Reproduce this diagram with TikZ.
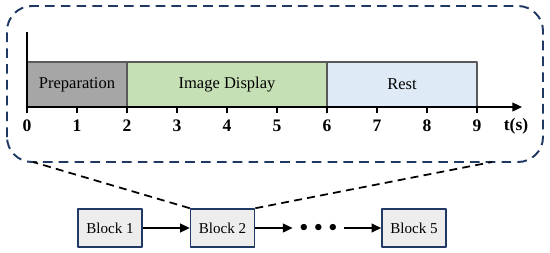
\documentclass[tikz,border=0pt]{standalone}
\usepackage{fontspec}
\setmainfont{Liberation Serif}
\usetikzlibrary{positioning,arrows.meta}
\definecolor{navy}{HTML}{1F3864}
\definecolor{prepgray}{HTML}{A6A6A6}
\definecolor{dispgreen}{HTML}{C5E0B4}
\definecolor{restblue}{HTML}{DEEBF7}
\definecolor{blockfill}{HTML}{EDEDED}
\tikzset{
  blockbox/.style={draw=navy, fill=blockfill, line width=0.9pt, minimum width=1.28cm,
    minimum height=0.76cm, inner sep=1pt, font=\fontsize{8.6}{10}\selectfont},
  phase/.style={draw=black!65, line width=0.8pt},
}
\begin{document}
\begin{tikzpicture}[font=\fontsize{9.4}{11}\selectfont, line join=round, >={Triangle[length=5.5pt,width=5pt]}]
\useasboundingbox (-0.54,-2.9) rectangle (10.46,2.14);
% zoom frame
\draw[navy, dash pattern=on 5.5pt off 3.5pt, line width=1.1pt, rounded corners=0.5cm]
  (-0.4,-1.1) rectangle (10.32,2.02);
\draw[phase, fill=prepgray] (0,0) rectangle (2,0.9);
\draw[phase, fill=dispgreen] (2,0) rectangle (6,0.9);
\draw[phase, fill=restblue] (6,0) rectangle (9,0.9);
\node (prep) at (1,0.45) {Preparation};
\node (disp) at (4,0.45) {Image Display};
\node (rest) at (7.5,0.45) {Rest};
% axes
\draw[->, line width=1.1pt] (0,0) -- (9.9,0);
\draw[line width=1.1pt] (0,0) -- (0,1.5);
\foreach \i in {0,...,9} {
  \draw[line width=1.1pt] (\i,0) -- (\i,-0.12);
  \node[font=\bfseries] (tick\i) at (\i,-0.38) {\i};
}
\node[font=\bfseries] (tunit) at (9.78,-0.38) {t(s)};
% blocks
\node[blockbox] (b1) at (1.66,-2.42) {Block 1};
\node[blockbox, right=0.94cm of b1] (b2) {Block 2};
\node[inner xsep=4pt, inner ysep=1pt, font=\fontsize{9}{10}\selectfont] (dots) at (5.83,-2.42) {$\bullet\,\bullet\,\bullet$};
\node[blockbox] (b5) at (7.74,-2.42) {Block 5};
\draw[->, line width=0.9pt] (b1) -- (b2);
\draw[->, line width=0.9pt] (b2) -- (dots);
\draw[->, line width=0.9pt] (dots) -- (b5);
% zoom lines
\coordinate (zl) at (0.12,-1.1);
\coordinate (zr) at (9.3,-1.1);
\draw[dash pattern=on 4.5pt off 3pt, line width=1pt] (b2.north west) -- (zl);
\draw[dash pattern=on 4.5pt off 3pt, line width=1pt] (b2.north east) -- (zr);
\end{tikzpicture}
\end{document}
